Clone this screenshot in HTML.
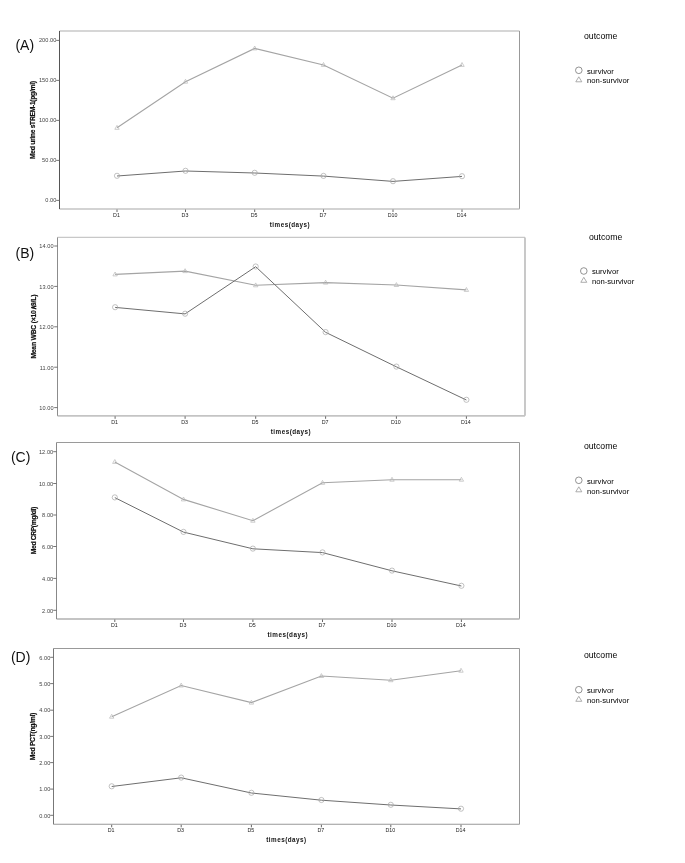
<!DOCTYPE html>
<html><head><meta charset="utf-8"><title>Figure</title>
<style>
html,body{margin:0;padding:0;background:#fff;}
body{width:685px;height:863px;overflow:hidden;}
svg{display:block;will-change:transform;}
text{font-family:"Liberation Sans", sans-serif;}
.yt{font-size:5.6px;fill:#444;text-anchor:end;letter-spacing:0.08px;}
.xt{font-size:5.3px;fill:#222;text-anchor:middle;}
.pl{font-size:14px;fill:#111;}
.yl{font-size:7.9px;font-weight:bold;fill:#111;stroke:#111;stroke-width:0.2px;}
.xl{font-size:6.3px;font-weight:bold;fill:#111;}
.oc{font-size:8.7px;fill:#000;}
.lg{font-size:7.7px;fill:#000;}
</style></head>
<body>
<svg width="685" height="863" viewBox="0 0 685 863">
<rect width="685" height="863" fill="#fff"/>
<g><line x1="59.5" y1="31" x2="519.5" y2="31" stroke="#c8c8c8" stroke-width="1.6"/>
<line x1="519.5" y1="31" x2="519.5" y2="209" stroke="#999" stroke-width="1"/>
<line x1="59.5" y1="209" x2="519.5" y2="209" stroke="#c4c4c4" stroke-width="1.6"/>
<line x1="59.5" y1="31" x2="59.5" y2="209" stroke="#555" stroke-width="1"/>
<line x1="56.2" y1="40.4" x2="59.5" y2="40.4" stroke="#666" stroke-width="0.9"/>
<text x="56.5" y="42.3" class="yt">200.00</text>
<line x1="56.2" y1="80.4" x2="59.5" y2="80.4" stroke="#666" stroke-width="0.9"/>
<text x="56.5" y="82.3" class="yt">150.00</text>
<line x1="56.2" y1="120.4" x2="59.5" y2="120.4" stroke="#666" stroke-width="0.9"/>
<text x="56.5" y="122.3" class="yt">100.00</text>
<line x1="56.2" y1="160.4" x2="59.5" y2="160.4" stroke="#666" stroke-width="0.9"/>
<text x="56.5" y="162.3" class="yt">50.00</text>
<line x1="56.2" y1="200.4" x2="59.5" y2="200.4" stroke="#666" stroke-width="0.9"/>
<text x="56.5" y="202.3" class="yt">0.00</text>
<line x1="117" y1="209.5" x2="117" y2="212" stroke="#555" stroke-width="0.9"/>
<text x="116.5" y="216.8" class="xt">D1</text>
<line x1="185.5" y1="209.5" x2="185.5" y2="212" stroke="#555" stroke-width="0.9"/>
<text x="185" y="216.8" class="xt">D3</text>
<line x1="254.7" y1="209.5" x2="254.7" y2="212" stroke="#555" stroke-width="0.9"/>
<text x="254.2" y="216.8" class="xt">D5</text>
<line x1="323.5" y1="209.5" x2="323.5" y2="212" stroke="#555" stroke-width="0.9"/>
<text x="323" y="216.8" class="xt">D7</text>
<line x1="393" y1="209.5" x2="393" y2="212" stroke="#555" stroke-width="0.9"/>
<text x="392.5" y="216.8" class="xt">D10</text>
<line x1="462" y1="209.5" x2="462" y2="212" stroke="#555" stroke-width="0.9"/>
<text x="461.5" y="216.8" class="xt">D14</text>
<polyline points="117,127.8 185.5,81.7 254.7,48.4 323.5,64.9 393,98.2 462,64.9" fill="none" stroke="#a4a4a4" stroke-width="1.1"/>
<polyline points="117,176 185.5,171 254.7,173 323.5,176.1 393,181.4 462,176.4" fill="none" stroke="#6e6e6e" stroke-width="1"/>
<path d="M117 125.4 L119.2 129.3 L114.8 129.3 Z" fill="none" stroke="#b8b8b8" stroke-width="0.7"/>
<path d="M185.5 79.3 L187.7 83.2 L183.3 83.2 Z" fill="none" stroke="#b8b8b8" stroke-width="0.7"/>
<path d="M254.7 46 L256.9 49.9 L252.5 49.9 Z" fill="none" stroke="#b8b8b8" stroke-width="0.7"/>
<path d="M323.5 62.5 L325.7 66.4 L321.3 66.4 Z" fill="none" stroke="#b8b8b8" stroke-width="0.7"/>
<path d="M393 95.8 L395.2 99.7 L390.8 99.7 Z" fill="none" stroke="#b8b8b8" stroke-width="0.7"/>
<path d="M462 62.5 L464.2 66.4 L459.8 66.4 Z" fill="none" stroke="#b8b8b8" stroke-width="0.7"/>
<circle cx="117" cy="175.8" r="2.6" fill="none" stroke="#a8a8a8" stroke-width="0.7"/>
<circle cx="185.5" cy="170.8" r="2.6" fill="none" stroke="#a8a8a8" stroke-width="0.7"/>
<circle cx="254.7" cy="172.8" r="2.6" fill="none" stroke="#a8a8a8" stroke-width="0.7"/>
<circle cx="323.5" cy="175.9" r="2.6" fill="none" stroke="#a8a8a8" stroke-width="0.7"/>
<circle cx="393" cy="181.2" r="2.6" fill="none" stroke="#a8a8a8" stroke-width="0.7"/>
<circle cx="462" cy="176.2" r="2.6" fill="none" stroke="#a8a8a8" stroke-width="0.7"/>
<text x="15.4" y="49.9" class="pl">(A)</text>
<text transform="translate(35.4,120) rotate(-90) scale(0.85,1)" text-anchor="middle" class="yl" textLength="91.76" lengthAdjust="spacing">Med urine sTREM-1(pg/ml)</text>
<text x="289.7" y="227.2" text-anchor="middle" class="xl" textLength="40" lengthAdjust="spacing">times(days)</text>
<text x="584" y="38.6" class="oc">outcome</text>
<circle cx="578.8" cy="70.3" r="3.3" fill="none" stroke="#777" stroke-width="0.8"/>
<text x="587" y="73.5" class="lg">survivor</text>
<path d="M578.8 76.8 L581.8 81.8 L575.8 81.8 Z" fill="none" stroke="#999" stroke-width="0.8"/>
<text x="587" y="83.4" class="lg">non-survivor</text></g>
<g><line x1="57.5" y1="237.4" x2="525" y2="237.4" stroke="#c8c8c8" stroke-width="1.3"/>
<line x1="525" y1="237.4" x2="525" y2="415.8" stroke="#bbb" stroke-width="1.6"/>
<line x1="57.5" y1="415.8" x2="525" y2="415.8" stroke="#c4c4c4" stroke-width="1.8"/>
<line x1="57.5" y1="237.4" x2="57.5" y2="415.8" stroke="#8c8c8c" stroke-width="1"/>
<line x1="54.2" y1="246" x2="57.5" y2="246" stroke="#666" stroke-width="0.9"/>
<text x="53.7" y="248.4" class="yt">14.00</text>
<line x1="54.2" y1="286.4" x2="57.5" y2="286.4" stroke="#666" stroke-width="0.9"/>
<text x="53.7" y="288.8" class="yt">13.00</text>
<line x1="54.2" y1="326.8" x2="57.5" y2="326.8" stroke="#666" stroke-width="0.9"/>
<text x="53.7" y="329.2" class="yt">12.00</text>
<line x1="54.2" y1="367.2" x2="57.5" y2="367.2" stroke="#666" stroke-width="0.9"/>
<text x="53.7" y="369.6" class="yt">11.00</text>
<line x1="54.2" y1="407.6" x2="57.5" y2="407.6" stroke="#666" stroke-width="0.9"/>
<text x="53.7" y="410" class="yt">10.00</text>
<line x1="115.1" y1="416.3" x2="115.1" y2="418.8" stroke="#555" stroke-width="0.9"/>
<text x="114.6" y="424" class="xt">D1</text>
<line x1="185.1" y1="416.3" x2="185.1" y2="418.8" stroke="#555" stroke-width="0.9"/>
<text x="184.6" y="424" class="xt">D3</text>
<line x1="255.7" y1="416.3" x2="255.7" y2="418.8" stroke="#555" stroke-width="0.9"/>
<text x="255.2" y="424" class="xt">D5</text>
<line x1="325.6" y1="416.3" x2="325.6" y2="418.8" stroke="#555" stroke-width="0.9"/>
<text x="325.1" y="424" class="xt">D7</text>
<line x1="396.4" y1="416.3" x2="396.4" y2="418.8" stroke="#555" stroke-width="0.9"/>
<text x="395.9" y="424" class="xt">D10</text>
<line x1="466.4" y1="416.3" x2="466.4" y2="418.8" stroke="#555" stroke-width="0.9"/>
<text x="465.9" y="424" class="xt">D14</text>
<polyline points="115.1,274.4 185.1,271.1 255.7,285.3 325.6,282.6 396.4,285 466.4,289.9" fill="none" stroke="#a4a4a4" stroke-width="1.1"/>
<polyline points="115.1,307.4 185.1,313.9 255.7,266.7 325.6,332.3 396.4,366.8 466.4,400" fill="none" stroke="#6e6e6e" stroke-width="1"/>
<path d="M115.1 272 L117.3 275.9 L112.9 275.9 Z" fill="none" stroke="#b8b8b8" stroke-width="0.7"/>
<path d="M185.1 268.7 L187.3 272.6 L182.9 272.6 Z" fill="none" stroke="#b8b8b8" stroke-width="0.7"/>
<path d="M255.7 282.9 L257.9 286.8 L253.5 286.8 Z" fill="none" stroke="#b8b8b8" stroke-width="0.7"/>
<path d="M325.6 280.2 L327.8 284.1 L323.4 284.1 Z" fill="none" stroke="#b8b8b8" stroke-width="0.7"/>
<path d="M396.4 282.6 L398.6 286.5 L394.2 286.5 Z" fill="none" stroke="#b8b8b8" stroke-width="0.7"/>
<path d="M466.4 287.5 L468.6 291.4 L464.2 291.4 Z" fill="none" stroke="#b8b8b8" stroke-width="0.7"/>
<circle cx="115.1" cy="307.2" r="2.6" fill="none" stroke="#a8a8a8" stroke-width="0.7"/>
<circle cx="185.1" cy="313.7" r="2.6" fill="none" stroke="#a8a8a8" stroke-width="0.7"/>
<circle cx="255.7" cy="266.5" r="2.6" fill="none" stroke="#a8a8a8" stroke-width="0.7"/>
<circle cx="325.6" cy="332.1" r="2.6" fill="none" stroke="#a8a8a8" stroke-width="0.7"/>
<circle cx="396.4" cy="366.6" r="2.6" fill="none" stroke="#a8a8a8" stroke-width="0.7"/>
<circle cx="466.4" cy="399.8" r="2.6" fill="none" stroke="#a8a8a8" stroke-width="0.7"/>
<text x="15.6" y="258.4" class="pl">(B)</text>
<text transform="translate(35.8,326.6) rotate(-90) scale(0.85,1)" text-anchor="middle" class="yl" textLength="75.29" lengthAdjust="spacing">Mean WBC (×10∧9/L)</text>
<text x="290.7" y="434.2" text-anchor="middle" class="xl" textLength="40" lengthAdjust="spacing">times(days)</text>
<text x="588.9" y="239.6" class="oc">outcome</text>
<circle cx="583.8" cy="271" r="3.3" fill="none" stroke="#777" stroke-width="0.8"/>
<text x="591.9" y="274" class="lg">survivor</text>
<path d="M583.8 277.3 L586.8 282.3 L580.8 282.3 Z" fill="none" stroke="#999" stroke-width="0.8"/>
<text x="591.9" y="284.1" class="lg">non-survivor</text></g>
<g><line x1="56.5" y1="442.5" x2="519.5" y2="442.5" stroke="#9a9a9a" stroke-width="1"/>
<line x1="519.5" y1="442.5" x2="519.5" y2="619" stroke="#999" stroke-width="1"/>
<line x1="56.5" y1="619" x2="519.5" y2="619" stroke="#c4c4c4" stroke-width="1.8"/>
<line x1="56.5" y1="442.5" x2="56.5" y2="619" stroke="#888" stroke-width="1"/>
<line x1="53.2" y1="451.7" x2="56.5" y2="451.7" stroke="#666" stroke-width="0.9"/>
<text x="53.3" y="454.1" class="yt">12.00</text>
<line x1="53.2" y1="483.5" x2="56.5" y2="483.5" stroke="#666" stroke-width="0.9"/>
<text x="53.3" y="485.9" class="yt">10.00</text>
<line x1="53.2" y1="515" x2="56.5" y2="515" stroke="#666" stroke-width="0.9"/>
<text x="53.3" y="517.4" class="yt">8.00</text>
<line x1="53.2" y1="546.5" x2="56.5" y2="546.5" stroke="#666" stroke-width="0.9"/>
<text x="53.3" y="548.9" class="yt">6.00</text>
<line x1="53.2" y1="578.4" x2="56.5" y2="578.4" stroke="#666" stroke-width="0.9"/>
<text x="53.3" y="580.8" class="yt">4.00</text>
<line x1="53.2" y1="610.3" x2="56.5" y2="610.3" stroke="#666" stroke-width="0.9"/>
<text x="53.3" y="612.7" class="yt">2.00</text>
<line x1="114.8" y1="619.5" x2="114.8" y2="622" stroke="#555" stroke-width="0.9"/>
<text x="114.3" y="627.1" class="xt">D1</text>
<line x1="183.5" y1="619.5" x2="183.5" y2="622" stroke="#555" stroke-width="0.9"/>
<text x="183" y="627.1" class="xt">D3</text>
<line x1="252.9" y1="619.5" x2="252.9" y2="622" stroke="#555" stroke-width="0.9"/>
<text x="252.4" y="627.1" class="xt">D5</text>
<line x1="322.5" y1="619.5" x2="322.5" y2="622" stroke="#555" stroke-width="0.9"/>
<text x="322" y="627.1" class="xt">D7</text>
<line x1="392" y1="619.5" x2="392" y2="622" stroke="#555" stroke-width="0.9"/>
<text x="391.5" y="627.1" class="xt">D10</text>
<line x1="461.4" y1="619.5" x2="461.4" y2="622" stroke="#555" stroke-width="0.9"/>
<text x="460.9" y="627.1" class="xt">D14</text>
<polyline points="114.8,461.9 183.5,499.4 252.9,520.7 322.5,482.8 392,479.7 461.4,479.7" fill="none" stroke="#a4a4a4" stroke-width="1.1"/>
<polyline points="114.8,497.6 183.5,532.1 252.9,548.8 322.5,552.6 392,570.8 461.4,586" fill="none" stroke="#6e6e6e" stroke-width="1"/>
<path d="M114.8 459.5 L117 463.4 L112.6 463.4 Z" fill="none" stroke="#b8b8b8" stroke-width="0.7"/>
<path d="M183.5 497 L185.7 500.9 L181.3 500.9 Z" fill="none" stroke="#b8b8b8" stroke-width="0.7"/>
<path d="M252.9 518.3 L255.1 522.2 L250.7 522.2 Z" fill="none" stroke="#b8b8b8" stroke-width="0.7"/>
<path d="M322.5 480.4 L324.7 484.3 L320.3 484.3 Z" fill="none" stroke="#b8b8b8" stroke-width="0.7"/>
<path d="M392 477.3 L394.2 481.2 L389.8 481.2 Z" fill="none" stroke="#b8b8b8" stroke-width="0.7"/>
<path d="M461.4 477.3 L463.6 481.2 L459.2 481.2 Z" fill="none" stroke="#b8b8b8" stroke-width="0.7"/>
<circle cx="114.8" cy="497.4" r="2.6" fill="none" stroke="#a8a8a8" stroke-width="0.7"/>
<circle cx="183.5" cy="531.9" r="2.6" fill="none" stroke="#a8a8a8" stroke-width="0.7"/>
<circle cx="252.9" cy="548.6" r="2.6" fill="none" stroke="#a8a8a8" stroke-width="0.7"/>
<circle cx="322.5" cy="552.4" r="2.6" fill="none" stroke="#a8a8a8" stroke-width="0.7"/>
<circle cx="392" cy="570.6" r="2.6" fill="none" stroke="#a8a8a8" stroke-width="0.7"/>
<circle cx="461.4" cy="585.8" r="2.6" fill="none" stroke="#a8a8a8" stroke-width="0.7"/>
<text x="10.9" y="462.2" class="pl">(C)</text>
<text transform="translate(36.3,530.5) rotate(-90) scale(0.85,1)" text-anchor="middle" class="yl" textLength="55.88" lengthAdjust="spacing">Med CRP(mg/dl)</text>
<text x="287.5" y="637.2" text-anchor="middle" class="xl" textLength="40" lengthAdjust="spacing">times(days)</text>
<text x="583.9" y="448.8" class="oc">outcome</text>
<circle cx="578.8" cy="480.3" r="3.3" fill="none" stroke="#777" stroke-width="0.8"/>
<text x="586.9" y="483.6" class="lg">survivor</text>
<path d="M578.8 486.8 L581.8 491.8 L575.8 491.8 Z" fill="none" stroke="#999" stroke-width="0.8"/>
<text x="586.9" y="494" class="lg">non-survivor</text></g>
<g><line x1="53.5" y1="648.5" x2="519.5" y2="648.5" stroke="#999" stroke-width="1"/>
<line x1="519.5" y1="648.5" x2="519.5" y2="824.3" stroke="#999" stroke-width="1"/>
<line x1="53.5" y1="824.3" x2="519.5" y2="824.3" stroke="#999" stroke-width="1.1"/>
<line x1="53.5" y1="648.5" x2="53.5" y2="824.3" stroke="#777" stroke-width="1"/>
<line x1="50.2" y1="657.3" x2="53.5" y2="657.3" stroke="#666" stroke-width="0.9"/>
<text x="50.4" y="659.5" class="yt">6.00</text>
<line x1="50.2" y1="683.6" x2="53.5" y2="683.6" stroke="#666" stroke-width="0.9"/>
<text x="50.4" y="685.8" class="yt">5.00</text>
<line x1="50.2" y1="710.2" x2="53.5" y2="710.2" stroke="#666" stroke-width="0.9"/>
<text x="50.4" y="712.4" class="yt">4.00</text>
<line x1="50.2" y1="736.4" x2="53.5" y2="736.4" stroke="#666" stroke-width="0.9"/>
<text x="50.4" y="738.6" class="yt">3.00</text>
<line x1="50.2" y1="762.6" x2="53.5" y2="762.6" stroke="#666" stroke-width="0.9"/>
<text x="50.4" y="764.8" class="yt">2.00</text>
<line x1="50.2" y1="789.1" x2="53.5" y2="789.1" stroke="#666" stroke-width="0.9"/>
<text x="50.4" y="791.3" class="yt">1.00</text>
<line x1="50.2" y1="815.3" x2="53.5" y2="815.3" stroke="#666" stroke-width="0.9"/>
<text x="50.4" y="817.5" class="yt">0.00</text>
<line x1="111.7" y1="824.8" x2="111.7" y2="827.3" stroke="#555" stroke-width="0.9"/>
<text x="111.2" y="832" class="xt">D1</text>
<line x1="181.2" y1="824.8" x2="181.2" y2="827.3" stroke="#555" stroke-width="0.9"/>
<text x="180.7" y="832" class="xt">D3</text>
<line x1="251.4" y1="824.8" x2="251.4" y2="827.3" stroke="#555" stroke-width="0.9"/>
<text x="250.9" y="832" class="xt">D5</text>
<line x1="321.4" y1="824.8" x2="321.4" y2="827.3" stroke="#555" stroke-width="0.9"/>
<text x="320.9" y="832" class="xt">D7</text>
<line x1="390.8" y1="824.8" x2="390.8" y2="827.3" stroke="#555" stroke-width="0.9"/>
<text x="390.3" y="832" class="xt">D10</text>
<line x1="461" y1="824.8" x2="461" y2="827.3" stroke="#555" stroke-width="0.9"/>
<text x="460.5" y="832" class="xt">D14</text>
<polyline points="111.7,716.7 181.2,685.5 251.4,702.6 321.4,676 390.8,680.2 461,670.7" fill="none" stroke="#a4a4a4" stroke-width="1.1"/>
<polyline points="111.7,786.5 181.2,777.8 251.4,793 321.4,800.2 390.8,805 461,808.9" fill="none" stroke="#6e6e6e" stroke-width="1"/>
<path d="M111.7 714.3 L113.9 718.2 L109.5 718.2 Z" fill="none" stroke="#b8b8b8" stroke-width="0.7"/>
<path d="M181.2 683.1 L183.4 687 L179 687 Z" fill="none" stroke="#b8b8b8" stroke-width="0.7"/>
<path d="M251.4 700.2 L253.6 704.1 L249.2 704.1 Z" fill="none" stroke="#b8b8b8" stroke-width="0.7"/>
<path d="M321.4 673.6 L323.6 677.5 L319.2 677.5 Z" fill="none" stroke="#b8b8b8" stroke-width="0.7"/>
<path d="M390.8 677.8 L393 681.7 L388.6 681.7 Z" fill="none" stroke="#b8b8b8" stroke-width="0.7"/>
<path d="M461 668.3 L463.2 672.2 L458.8 672.2 Z" fill="none" stroke="#b8b8b8" stroke-width="0.7"/>
<circle cx="111.7" cy="786.3" r="2.6" fill="none" stroke="#a8a8a8" stroke-width="0.7"/>
<circle cx="181.2" cy="777.6" r="2.6" fill="none" stroke="#a8a8a8" stroke-width="0.7"/>
<circle cx="251.4" cy="792.8" r="2.6" fill="none" stroke="#a8a8a8" stroke-width="0.7"/>
<circle cx="321.4" cy="800" r="2.6" fill="none" stroke="#a8a8a8" stroke-width="0.7"/>
<circle cx="390.8" cy="804.8" r="2.6" fill="none" stroke="#a8a8a8" stroke-width="0.7"/>
<circle cx="461" cy="808.7" r="2.6" fill="none" stroke="#a8a8a8" stroke-width="0.7"/>
<text x="10.9" y="661.8" class="pl">(D)</text>
<text transform="translate(35.4,736.5) rotate(-90) scale(0.85,1)" text-anchor="middle" class="yl" textLength="56" lengthAdjust="spacing">Med PCT(ng/ml)</text>
<text x="286.2" y="842" text-anchor="middle" class="xl" textLength="40" lengthAdjust="spacing">times(days)</text>
<text x="583.9" y="658" class="oc">outcome</text>
<circle cx="578.8" cy="689.7" r="3.3" fill="none" stroke="#777" stroke-width="0.8"/>
<text x="586.9" y="692.8" class="lg">survivor</text>
<path d="M578.8 696.3 L581.8 701.3 L575.8 701.3 Z" fill="none" stroke="#999" stroke-width="0.8"/>
<text x="586.9" y="703.1" class="lg">non-survivor</text></g>
</svg>
</body></html>
